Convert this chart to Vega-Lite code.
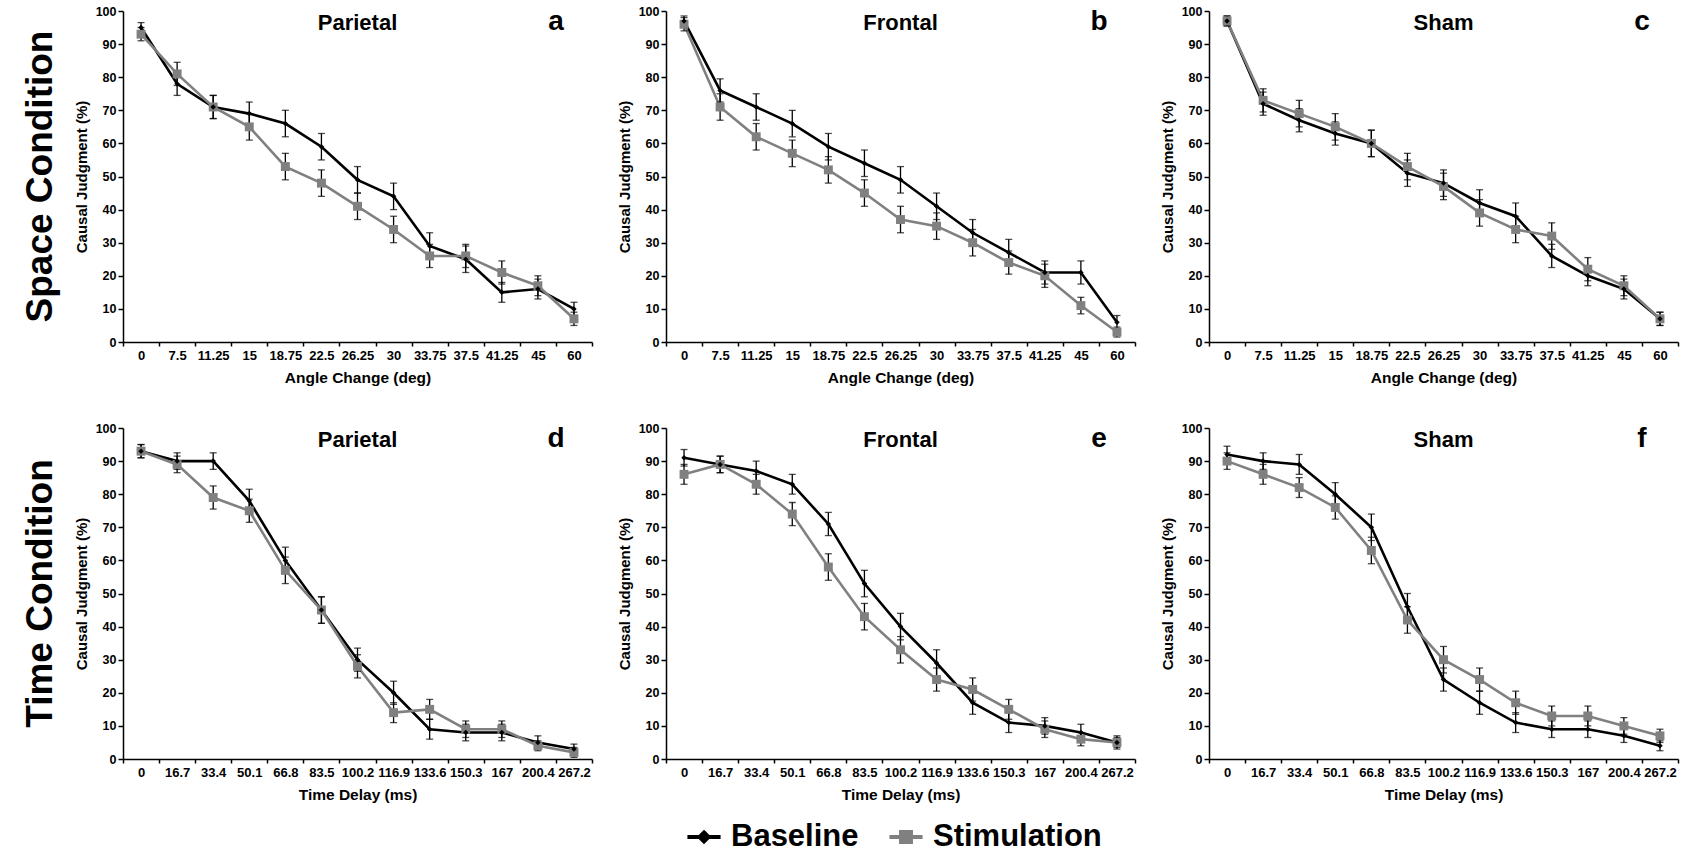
{
"$schema": "https://vega.github.io/schema/vega-lite/v6.json",
"padding": {"left": 22, "top": 5, "right": 5, "bottom": 5},
"background": "white",
"datasets": {"d": [
{"p":"a","g":"Baseline","x":"0","v":95,"e":1.5},{"p":"a","g":"Baseline","x":"7.5","v":78,"e":3.5},{"p":"a","g":"Baseline","x":"11.25","v":71,"e":3.5},{"p":"a","g":"Baseline","x":"15","v":69,"e":3.5},{"p":"a","g":"Baseline","x":"18.75","v":66,"e":4},{"p":"a","g":"Baseline","x":"22.5","v":59,"e":4},{"p":"a","g":"Baseline","x":"26.25","v":49,"e":4},{"p":"a","g":"Baseline","x":"30","v":44,"e":4},{"p":"a","g":"Baseline","x":"33.75","v":29,"e":4},{"p":"a","g":"Baseline","x":"37.5","v":25,"e":4},{"p":"a","g":"Baseline","x":"41.25","v":15,"e":3},{"p":"a","g":"Baseline","x":"45","v":16,"e":3},{"p":"a","g":"Baseline","x":"60","v":10,"e":2},
{"p":"a","g":"Stimulation","x":"0","v":93,"e":2},{"p":"a","g":"Stimulation","x":"7.5","v":81,"e":3.5},{"p":"a","g":"Stimulation","x":"11.25","v":71,"e":3.5},{"p":"a","g":"Stimulation","x":"15","v":65,"e":4},{"p":"a","g":"Stimulation","x":"18.75","v":53,"e":4},{"p":"a","g":"Stimulation","x":"22.5","v":48,"e":4},{"p":"a","g":"Stimulation","x":"26.25","v":41,"e":4},{"p":"a","g":"Stimulation","x":"30","v":34,"e":4},{"p":"a","g":"Stimulation","x":"33.75","v":26,"e":3.5},{"p":"a","g":"Stimulation","x":"37.5","v":26,"e":3.5},{"p":"a","g":"Stimulation","x":"41.25","v":21,"e":3.5},{"p":"a","g":"Stimulation","x":"45","v":17,"e":3},{"p":"a","g":"Stimulation","x":"60","v":7,"e":2},
{"p":"b","g":"Baseline","x":"0","v":97,"e":1.5},{"p":"b","g":"Baseline","x":"7.5","v":76,"e":3.5},{"p":"b","g":"Baseline","x":"11.25","v":71,"e":4},{"p":"b","g":"Baseline","x":"15","v":66,"e":4},{"p":"b","g":"Baseline","x":"18.75","v":59,"e":4},{"p":"b","g":"Baseline","x":"22.5","v":54,"e":4},{"p":"b","g":"Baseline","x":"26.25","v":49,"e":4},{"p":"b","g":"Baseline","x":"30","v":41,"e":4},{"p":"b","g":"Baseline","x":"33.75","v":33,"e":4},{"p":"b","g":"Baseline","x":"37.5","v":27,"e":4},{"p":"b","g":"Baseline","x":"41.25","v":21,"e":3.5},{"p":"b","g":"Baseline","x":"45","v":21,"e":3.5},{"p":"b","g":"Baseline","x":"60","v":6,"e":2},
{"p":"b","g":"Stimulation","x":"0","v":96,"e":2},{"p":"b","g":"Stimulation","x":"7.5","v":71,"e":4},{"p":"b","g":"Stimulation","x":"11.25","v":62,"e":4},{"p":"b","g":"Stimulation","x":"15","v":57,"e":4},{"p":"b","g":"Stimulation","x":"18.75","v":52,"e":4},{"p":"b","g":"Stimulation","x":"22.5","v":45,"e":4},{"p":"b","g":"Stimulation","x":"26.25","v":37,"e":4},{"p":"b","g":"Stimulation","x":"30","v":35,"e":4},{"p":"b","g":"Stimulation","x":"33.75","v":30,"e":4},{"p":"b","g":"Stimulation","x":"37.5","v":24,"e":3.5},{"p":"b","g":"Stimulation","x":"41.25","v":20,"e":3.5},{"p":"b","g":"Stimulation","x":"45","v":11,"e":2.5},{"p":"b","g":"Stimulation","x":"60","v":3,"e":1.5},
{"p":"c","g":"Baseline","x":"0","v":97,"e":1.5},{"p":"c","g":"Baseline","x":"7.5","v":72,"e":3.5},{"p":"c","g":"Baseline","x":"11.25","v":67,"e":3.5},{"p":"c","g":"Baseline","x":"15","v":63,"e":3.5},{"p":"c","g":"Baseline","x":"18.75","v":60,"e":4},{"p":"c","g":"Baseline","x":"22.5","v":51,"e":4},{"p":"c","g":"Baseline","x":"26.25","v":48,"e":4},{"p":"c","g":"Baseline","x":"30","v":42,"e":4},{"p":"c","g":"Baseline","x":"33.75","v":38,"e":4},{"p":"c","g":"Baseline","x":"37.5","v":26,"e":3.5},{"p":"c","g":"Baseline","x":"41.25","v":20,"e":3},{"p":"c","g":"Baseline","x":"45","v":16,"e":3},{"p":"c","g":"Baseline","x":"60","v":7,"e":2},
{"p":"c","g":"Stimulation","x":"0","v":97,"e":1.5},{"p":"c","g":"Stimulation","x":"7.5","v":73,"e":3.5},{"p":"c","g":"Stimulation","x":"11.25","v":69,"e":4},{"p":"c","g":"Stimulation","x":"15","v":65,"e":4},{"p":"c","g":"Stimulation","x":"18.75","v":60,"e":4},{"p":"c","g":"Stimulation","x":"22.5","v":53,"e":4},{"p":"c","g":"Stimulation","x":"26.25","v":47,"e":4},{"p":"c","g":"Stimulation","x":"30","v":39,"e":4},{"p":"c","g":"Stimulation","x":"33.75","v":34,"e":4},{"p":"c","g":"Stimulation","x":"37.5","v":32,"e":4},{"p":"c","g":"Stimulation","x":"41.25","v":22,"e":3.5},{"p":"c","g":"Stimulation","x":"45","v":17,"e":3},{"p":"c","g":"Stimulation","x":"60","v":7,"e":2},
{"p":"d","g":"Baseline","x":"0","v":93,"e":2},{"p":"d","g":"Baseline","x":"16.7","v":90,"e":2.5},{"p":"d","g":"Baseline","x":"33.4","v":90,"e":2.5},{"p":"d","g":"Baseline","x":"50.1","v":78,"e":3.5},{"p":"d","g":"Baseline","x":"66.8","v":60,"e":4},{"p":"d","g":"Baseline","x":"83.5","v":45,"e":4},{"p":"d","g":"Baseline","x":"100.2","v":30,"e":3.5},{"p":"d","g":"Baseline","x":"116.9","v":20,"e":3.5},{"p":"d","g":"Baseline","x":"133.6","v":9,"e":3},{"p":"d","g":"Baseline","x":"150.3","v":8,"e":2.5},{"p":"d","g":"Baseline","x":"167","v":8,"e":2.5},{"p":"d","g":"Baseline","x":"200.4","v":5,"e":2},{"p":"d","g":"Baseline","x":"267.2","v":3,"e":1.5},
{"p":"d","g":"Stimulation","x":"0","v":93,"e":2},{"p":"d","g":"Stimulation","x":"16.7","v":89,"e":2.5},{"p":"d","g":"Stimulation","x":"33.4","v":79,"e":3.5},{"p":"d","g":"Stimulation","x":"50.1","v":75,"e":3.5},{"p":"d","g":"Stimulation","x":"66.8","v":57,"e":4},{"p":"d","g":"Stimulation","x":"83.5","v":45,"e":4},{"p":"d","g":"Stimulation","x":"100.2","v":28,"e":3.5},{"p":"d","g":"Stimulation","x":"116.9","v":14,"e":3},{"p":"d","g":"Stimulation","x":"133.6","v":15,"e":3},{"p":"d","g":"Stimulation","x":"150.3","v":9,"e":2.5},{"p":"d","g":"Stimulation","x":"167","v":9,"e":2.5},{"p":"d","g":"Stimulation","x":"200.4","v":4,"e":1.5},{"p":"d","g":"Stimulation","x":"267.2","v":2,"e":1.5},
{"p":"e","g":"Baseline","x":"0","v":91,"e":2.5},{"p":"e","g":"Baseline","x":"16.7","v":89,"e":2.5},{"p":"e","g":"Baseline","x":"33.4","v":87,"e":3},{"p":"e","g":"Baseline","x":"50.1","v":83,"e":3},{"p":"e","g":"Baseline","x":"66.8","v":71,"e":3.5},{"p":"e","g":"Baseline","x":"83.5","v":53,"e":4},{"p":"e","g":"Baseline","x":"100.2","v":40,"e":4},{"p":"e","g":"Baseline","x":"116.9","v":29,"e":4},{"p":"e","g":"Baseline","x":"133.6","v":17,"e":3.5},{"p":"e","g":"Baseline","x":"150.3","v":11,"e":3},{"p":"e","g":"Baseline","x":"167","v":10,"e":2.5},{"p":"e","g":"Baseline","x":"200.4","v":8,"e":2.5},{"p":"e","g":"Baseline","x":"267.2","v":5,"e":2},
{"p":"e","g":"Stimulation","x":"0","v":86,"e":3},{"p":"e","g":"Stimulation","x":"16.7","v":89,"e":2.5},{"p":"e","g":"Stimulation","x":"33.4","v":83,"e":3},{"p":"e","g":"Stimulation","x":"50.1","v":74,"e":3.5},{"p":"e","g":"Stimulation","x":"66.8","v":58,"e":4},{"p":"e","g":"Stimulation","x":"83.5","v":43,"e":4},{"p":"e","g":"Stimulation","x":"100.2","v":33,"e":4},{"p":"e","g":"Stimulation","x":"116.9","v":24,"e":3.5},{"p":"e","g":"Stimulation","x":"133.6","v":21,"e":3.5},{"p":"e","g":"Stimulation","x":"150.3","v":15,"e":3},{"p":"e","g":"Stimulation","x":"167","v":9,"e":2.5},{"p":"e","g":"Stimulation","x":"200.4","v":6,"e":2},{"p":"e","g":"Stimulation","x":"267.2","v":5,"e":1.5},
{"p":"f","g":"Baseline","x":"0","v":92,"e":2.5},{"p":"f","g":"Baseline","x":"16.7","v":90,"e":2.5},{"p":"f","g":"Baseline","x":"33.4","v":89,"e":3},{"p":"f","g":"Baseline","x":"50.1","v":80,"e":3.5},{"p":"f","g":"Baseline","x":"66.8","v":70,"e":4},{"p":"f","g":"Baseline","x":"83.5","v":46,"e":4},{"p":"f","g":"Baseline","x":"100.2","v":24,"e":3.5},{"p":"f","g":"Baseline","x":"116.9","v":17,"e":3.5},{"p":"f","g":"Baseline","x":"133.6","v":11,"e":3},{"p":"f","g":"Baseline","x":"150.3","v":9,"e":2.5},{"p":"f","g":"Baseline","x":"167","v":9,"e":2.5},{"p":"f","g":"Baseline","x":"200.4","v":7,"e":2},{"p":"f","g":"Baseline","x":"267.2","v":4,"e":1.5},
{"p":"f","g":"Stimulation","x":"0","v":90,"e":2.5},{"p":"f","g":"Stimulation","x":"16.7","v":86,"e":3},{"p":"f","g":"Stimulation","x":"33.4","v":82,"e":3},{"p":"f","g":"Stimulation","x":"50.1","v":76,"e":3.5},{"p":"f","g":"Stimulation","x":"66.8","v":63,"e":4},{"p":"f","g":"Stimulation","x":"83.5","v":42,"e":4},{"p":"f","g":"Stimulation","x":"100.2","v":30,"e":4},{"p":"f","g":"Stimulation","x":"116.9","v":24,"e":3.5},{"p":"f","g":"Stimulation","x":"133.6","v":17,"e":3.5},{"p":"f","g":"Stimulation","x":"150.3","v":13,"e":3},{"p":"f","g":"Stimulation","x":"167","v":13,"e":3},{"p":"f","g":"Stimulation","x":"200.4","v":10,"e":2.5},{"p":"f","g":"Stimulation","x":"267.2","v":7,"e":2}
]},
"spacing": 36,
"vconcat": [
{"spacing": 24, "hconcat": [
{"width": 469, "height": 331,
 "title": {"text": "Space Condition", "orient": "left", "anchor": "middle", "frame": "group", "fontSize": 37, "font": "Liberation Sans", "fontWeight": "bold", "color": "#000", "offset": 14},
 "layer": [
 {"data": {"name": "d"},
  "encoding": {
   "x": {"field": "x", "type": "ordinal", "scale": {"type": "band", "domain": ["0","7.5","11.25","15","18.75","22.5","26.25","30","33.75","37.5","41.25","45","60"], "paddingInner": 0, "paddingOuter": 0}, "axis": {"title": "Angle Change (deg)"}},
   "y": {"field": "v", "type": "quantitative", "scale": {"domain": [0, 100]}, "axis": {"title": "Causal Judgment (%)", "values": [0,10,20,30,40,50,60,70,80,90,100]}}},
  "layer": [
   {"transform": [{"filter": "datum.p == 'a'"}], "mark": {"type": "line", "strokeWidth": 2.6}, "encoding": {"color": {"field": "g", "type": "nominal", "scale": {"domain": ["Baseline","Stimulation"], "range": ["#000000","#808080"]}, "legend": {"title": null, "orient": "none", "legendX": 562, "legendY": 807, "direction": "horizontal", "labelFontSize": 31, "labelFontWeight": "bold", "labelFont": "Liberation Sans", "labelColor": "#000", "labelLimit": 0, "symbolSize": 1100, "symbolStrokeWidth": 4, "labelOffset": 8, "columnPadding": 22, "encode": {"symbols": {"update": {"shape": {"signal": "datum.value === 'Baseline' ? 'M-1,0H1M0,-0.27L0.27,0L0,0.27L-0.27,0Z' : 'M-1,0H1M-0.3,-0.3H0.3V0.3H-0.3Z'"}, "fill": {"signal": "datum.value === 'Baseline' ? '#000000' : '#808080'"}, "stroke": {"signal": "datum.value === 'Baseline' ? '#000000' : '#808080'"}}}}}}}},
   {"transform": [{"filter": "datum.p == 'a'"}], "mark": {"type": "errorbar", "color": "#000", "thickness": 1.3, "ticks": {"size": 7, "thickness": 1.3, "color": "#000"}}, "encoding": {"yError": {"field": "e"}}},
   {"transform": [{"filter": "datum.p == 'a' && datum.g == 'Stimulation'"}], "mark": {"type": "square", "size": 80, "color": "#808080", "opacity": 1}},
   {"transform": [{"filter": "datum.p == 'a' && datum.g == 'Baseline'"}], "mark": {"type": "point", "shape": "diamond", "filled": true, "size": 30, "color": "#000", "opacity": 1}}
  ]},
 {"data": {"values": [{}]}, "mark": {"type": "text", "fontSize": 22, "fontWeight": "bold", "font": "Liberation Sans", "color": "#000", "baseline": "alphabetic"}, "encoding": {"x": {"datum": "26.25", "type": "ordinal"}, "y": {"datum": 94.3, "type": "quantitative", "axis": {"title": "Causal Judgment (%)", "values": [0,10,20,30,40,50,60,70,80,90,100]}}, "text": {"value": "Parietal"}}},
 {"data": {"values": [{}]}, "mark": {"type": "text", "fontSize": 28, "fontWeight": "bold", "font": "Liberation Sans", "color": "#000", "baseline": "alphabetic", "dx": -18}, "encoding": {"x": {"datum": "60", "type": "ordinal"}, "y": {"datum": 94.3, "type": "quantitative", "axis": {"title": "Causal Judgment (%)", "values": [0,10,20,30,40,50,60,70,80,90,100]}}, "text": {"value": "a"}}}
 ]},
{"width": 469, "height": 331,
 "layer": [
 {"data": {"name": "d"},
  "encoding": {
   "x": {"field": "x", "type": "ordinal", "scale": {"type": "band", "domain": ["0","7.5","11.25","15","18.75","22.5","26.25","30","33.75","37.5","41.25","45","60"], "paddingInner": 0, "paddingOuter": 0}, "axis": {"title": "Angle Change (deg)"}},
   "y": {"field": "v", "type": "quantitative", "scale": {"domain": [0, 100]}, "axis": {"title": "Causal Judgment (%)", "values": [0,10,20,30,40,50,60,70,80,90,100]}}},
  "layer": [
   {"transform": [{"filter": "datum.p == 'b'"}], "mark": {"type": "line", "strokeWidth": 2.6}, "encoding": {"color": {"field": "g", "type": "nominal", "scale": {"domain": ["Baseline","Stimulation"], "range": ["#000000","#808080"]}, "legend": {"title": null, "orient": "none", "legendX": 562, "legendY": 807, "direction": "horizontal", "labelFontSize": 31, "labelFontWeight": "bold", "labelFont": "Liberation Sans", "labelColor": "#000", "labelLimit": 0, "symbolSize": 1100, "symbolStrokeWidth": 4, "labelOffset": 8, "columnPadding": 22, "encode": {"symbols": {"update": {"shape": {"signal": "datum.value === 'Baseline' ? 'M-1,0H1M0,-0.27L0.27,0L0,0.27L-0.27,0Z' : 'M-1,0H1M-0.3,-0.3H0.3V0.3H-0.3Z'"}, "fill": {"signal": "datum.value === 'Baseline' ? '#000000' : '#808080'"}, "stroke": {"signal": "datum.value === 'Baseline' ? '#000000' : '#808080'"}}}}}}}},
   {"transform": [{"filter": "datum.p == 'b'"}], "mark": {"type": "errorbar", "color": "#000", "thickness": 1.3, "ticks": {"size": 7, "thickness": 1.3, "color": "#000"}}, "encoding": {"yError": {"field": "e"}}},
   {"transform": [{"filter": "datum.p == 'b' && datum.g == 'Stimulation'"}], "mark": {"type": "square", "size": 80, "color": "#808080", "opacity": 1}},
   {"transform": [{"filter": "datum.p == 'b' && datum.g == 'Baseline'"}], "mark": {"type": "point", "shape": "diamond", "filled": true, "size": 30, "color": "#000", "opacity": 1}}
  ]},
 {"data": {"values": [{}]}, "mark": {"type": "text", "fontSize": 22, "fontWeight": "bold", "font": "Liberation Sans", "color": "#000", "baseline": "alphabetic"}, "encoding": {"x": {"datum": "26.25", "type": "ordinal"}, "y": {"datum": 94.3, "type": "quantitative", "axis": {"title": "Causal Judgment (%)", "values": [0,10,20,30,40,50,60,70,80,90,100]}}, "text": {"value": "Frontal"}}},
 {"data": {"values": [{}]}, "mark": {"type": "text", "fontSize": 28, "fontWeight": "bold", "font": "Liberation Sans", "color": "#000", "baseline": "alphabetic", "dx": -18}, "encoding": {"x": {"datum": "60", "type": "ordinal"}, "y": {"datum": 94.3, "type": "quantitative", "axis": {"title": "Causal Judgment (%)", "values": [0,10,20,30,40,50,60,70,80,90,100]}}, "text": {"value": "b"}}}
 ]},
{"width": 469, "height": 331,
 "layer": [
 {"data": {"name": "d"},
  "encoding": {
   "x": {"field": "x", "type": "ordinal", "scale": {"type": "band", "domain": ["0","7.5","11.25","15","18.75","22.5","26.25","30","33.75","37.5","41.25","45","60"], "paddingInner": 0, "paddingOuter": 0}, "axis": {"title": "Angle Change (deg)"}},
   "y": {"field": "v", "type": "quantitative", "scale": {"domain": [0, 100]}, "axis": {"title": "Causal Judgment (%)", "values": [0,10,20,30,40,50,60,70,80,90,100]}}},
  "layer": [
   {"transform": [{"filter": "datum.p == 'c'"}], "mark": {"type": "line", "strokeWidth": 2.6}, "encoding": {"color": {"field": "g", "type": "nominal", "scale": {"domain": ["Baseline","Stimulation"], "range": ["#000000","#808080"]}, "legend": {"title": null, "orient": "none", "legendX": 562, "legendY": 807, "direction": "horizontal", "labelFontSize": 31, "labelFontWeight": "bold", "labelFont": "Liberation Sans", "labelColor": "#000", "labelLimit": 0, "symbolSize": 1100, "symbolStrokeWidth": 4, "labelOffset": 8, "columnPadding": 22, "encode": {"symbols": {"update": {"shape": {"signal": "datum.value === 'Baseline' ? 'M-1,0H1M0,-0.27L0.27,0L0,0.27L-0.27,0Z' : 'M-1,0H1M-0.3,-0.3H0.3V0.3H-0.3Z'"}, "fill": {"signal": "datum.value === 'Baseline' ? '#000000' : '#808080'"}, "stroke": {"signal": "datum.value === 'Baseline' ? '#000000' : '#808080'"}}}}}}}},
   {"transform": [{"filter": "datum.p == 'c'"}], "mark": {"type": "errorbar", "color": "#000", "thickness": 1.3, "ticks": {"size": 7, "thickness": 1.3, "color": "#000"}}, "encoding": {"yError": {"field": "e"}}},
   {"transform": [{"filter": "datum.p == 'c' && datum.g == 'Stimulation'"}], "mark": {"type": "square", "size": 80, "color": "#808080", "opacity": 1}},
   {"transform": [{"filter": "datum.p == 'c' && datum.g == 'Baseline'"}], "mark": {"type": "point", "shape": "diamond", "filled": true, "size": 30, "color": "#000", "opacity": 1}}
  ]},
 {"data": {"values": [{}]}, "mark": {"type": "text", "fontSize": 22, "fontWeight": "bold", "font": "Liberation Sans", "color": "#000", "baseline": "alphabetic"}, "encoding": {"x": {"datum": "26.25", "type": "ordinal"}, "y": {"datum": 94.3, "type": "quantitative", "axis": {"title": "Causal Judgment (%)", "values": [0,10,20,30,40,50,60,70,80,90,100]}}, "text": {"value": "Sham"}}},
 {"data": {"values": [{}]}, "mark": {"type": "text", "fontSize": 28, "fontWeight": "bold", "font": "Liberation Sans", "color": "#000", "baseline": "alphabetic", "dx": -18}, "encoding": {"x": {"datum": "60", "type": "ordinal"}, "y": {"datum": 94.3, "type": "quantitative", "axis": {"title": "Causal Judgment (%)", "values": [0,10,20,30,40,50,60,70,80,90,100]}}, "text": {"value": "c"}}}
 ]}
]},
{"spacing": 24, "hconcat": [
{"width": 469, "height": 331,
 "title": {"text": "Time Condition", "orient": "left", "anchor": "middle", "frame": "group", "fontSize": 37, "font": "Liberation Sans", "fontWeight": "bold", "color": "#000", "offset": 14},
 "layer": [
 {"data": {"name": "d"},
  "encoding": {
   "x": {"field": "x", "type": "ordinal", "scale": {"type": "band", "domain": ["0","16.7","33.4","50.1","66.8","83.5","100.2","116.9","133.6","150.3","167","200.4","267.2"], "paddingInner": 0, "paddingOuter": 0}, "axis": {"title": "Time Delay (ms)"}},
   "y": {"field": "v", "type": "quantitative", "scale": {"domain": [0, 100]}, "axis": {"title": "Causal Judgment (%)", "values": [0,10,20,30,40,50,60,70,80,90,100]}}},
  "layer": [
   {"transform": [{"filter": "datum.p == 'd'"}], "mark": {"type": "line", "strokeWidth": 2.6}, "encoding": {"color": {"field": "g", "type": "nominal", "scale": {"domain": ["Baseline","Stimulation"], "range": ["#000000","#808080"]}, "legend": {"title": null, "orient": "none", "legendX": 562, "legendY": 807, "direction": "horizontal", "labelFontSize": 31, "labelFontWeight": "bold", "labelFont": "Liberation Sans", "labelColor": "#000", "labelLimit": 0, "symbolSize": 1100, "symbolStrokeWidth": 4, "labelOffset": 8, "columnPadding": 22, "encode": {"symbols": {"update": {"shape": {"signal": "datum.value === 'Baseline' ? 'M-1,0H1M0,-0.27L0.27,0L0,0.27L-0.27,0Z' : 'M-1,0H1M-0.3,-0.3H0.3V0.3H-0.3Z'"}, "fill": {"signal": "datum.value === 'Baseline' ? '#000000' : '#808080'"}, "stroke": {"signal": "datum.value === 'Baseline' ? '#000000' : '#808080'"}}}}}}}},
   {"transform": [{"filter": "datum.p == 'd'"}], "mark": {"type": "errorbar", "color": "#000", "thickness": 1.3, "ticks": {"size": 7, "thickness": 1.3, "color": "#000"}}, "encoding": {"yError": {"field": "e"}}},
   {"transform": [{"filter": "datum.p == 'd' && datum.g == 'Stimulation'"}], "mark": {"type": "square", "size": 80, "color": "#808080", "opacity": 1}},
   {"transform": [{"filter": "datum.p == 'd' && datum.g == 'Baseline'"}], "mark": {"type": "point", "shape": "diamond", "filled": true, "size": 30, "color": "#000", "opacity": 1}}
  ]},
 {"data": {"values": [{}]}, "mark": {"type": "text", "fontSize": 22, "fontWeight": "bold", "font": "Liberation Sans", "color": "#000", "baseline": "alphabetic"}, "encoding": {"x": {"datum": "100.2", "type": "ordinal"}, "y": {"datum": 94.3, "type": "quantitative", "axis": {"title": "Causal Judgment (%)", "values": [0,10,20,30,40,50,60,70,80,90,100]}}, "text": {"value": "Parietal"}}},
 {"data": {"values": [{}]}, "mark": {"type": "text", "fontSize": 28, "fontWeight": "bold", "font": "Liberation Sans", "color": "#000", "baseline": "alphabetic", "dx": -18}, "encoding": {"x": {"datum": "267.2", "type": "ordinal"}, "y": {"datum": 94.3, "type": "quantitative", "axis": {"title": "Causal Judgment (%)", "values": [0,10,20,30,40,50,60,70,80,90,100]}}, "text": {"value": "d"}}}
 ]},
{"width": 469, "height": 331,
 "layer": [
 {"data": {"name": "d"},
  "encoding": {
   "x": {"field": "x", "type": "ordinal", "scale": {"type": "band", "domain": ["0","16.7","33.4","50.1","66.8","83.5","100.2","116.9","133.6","150.3","167","200.4","267.2"], "paddingInner": 0, "paddingOuter": 0}, "axis": {"title": "Time Delay (ms)"}},
   "y": {"field": "v", "type": "quantitative", "scale": {"domain": [0, 100]}, "axis": {"title": "Causal Judgment (%)", "values": [0,10,20,30,40,50,60,70,80,90,100]}}},
  "layer": [
   {"transform": [{"filter": "datum.p == 'e'"}], "mark": {"type": "line", "strokeWidth": 2.6}, "encoding": {"color": {"field": "g", "type": "nominal", "scale": {"domain": ["Baseline","Stimulation"], "range": ["#000000","#808080"]}, "legend": {"title": null, "orient": "none", "legendX": 562, "legendY": 807, "direction": "horizontal", "labelFontSize": 31, "labelFontWeight": "bold", "labelFont": "Liberation Sans", "labelColor": "#000", "labelLimit": 0, "symbolSize": 1100, "symbolStrokeWidth": 4, "labelOffset": 8, "columnPadding": 22, "encode": {"symbols": {"update": {"shape": {"signal": "datum.value === 'Baseline' ? 'M-1,0H1M0,-0.27L0.27,0L0,0.27L-0.27,0Z' : 'M-1,0H1M-0.3,-0.3H0.3V0.3H-0.3Z'"}, "fill": {"signal": "datum.value === 'Baseline' ? '#000000' : '#808080'"}, "stroke": {"signal": "datum.value === 'Baseline' ? '#000000' : '#808080'"}}}}}}}},
   {"transform": [{"filter": "datum.p == 'e'"}], "mark": {"type": "errorbar", "color": "#000", "thickness": 1.3, "ticks": {"size": 7, "thickness": 1.3, "color": "#000"}}, "encoding": {"yError": {"field": "e"}}},
   {"transform": [{"filter": "datum.p == 'e' && datum.g == 'Stimulation'"}], "mark": {"type": "square", "size": 80, "color": "#808080", "opacity": 1}},
   {"transform": [{"filter": "datum.p == 'e' && datum.g == 'Baseline'"}], "mark": {"type": "point", "shape": "diamond", "filled": true, "size": 30, "color": "#000", "opacity": 1}}
  ]},
 {"data": {"values": [{}]}, "mark": {"type": "text", "fontSize": 22, "fontWeight": "bold", "font": "Liberation Sans", "color": "#000", "baseline": "alphabetic"}, "encoding": {"x": {"datum": "100.2", "type": "ordinal"}, "y": {"datum": 94.3, "type": "quantitative", "axis": {"title": "Causal Judgment (%)", "values": [0,10,20,30,40,50,60,70,80,90,100]}}, "text": {"value": "Frontal"}}},
 {"data": {"values": [{}]}, "mark": {"type": "text", "fontSize": 28, "fontWeight": "bold", "font": "Liberation Sans", "color": "#000", "baseline": "alphabetic", "dx": -18}, "encoding": {"x": {"datum": "267.2", "type": "ordinal"}, "y": {"datum": 94.3, "type": "quantitative", "axis": {"title": "Causal Judgment (%)", "values": [0,10,20,30,40,50,60,70,80,90,100]}}, "text": {"value": "e"}}}
 ]},
{"width": 469, "height": 331,
 "layer": [
 {"data": {"name": "d"},
  "encoding": {
   "x": {"field": "x", "type": "ordinal", "scale": {"type": "band", "domain": ["0","16.7","33.4","50.1","66.8","83.5","100.2","116.9","133.6","150.3","167","200.4","267.2"], "paddingInner": 0, "paddingOuter": 0}, "axis": {"title": "Time Delay (ms)"}},
   "y": {"field": "v", "type": "quantitative", "scale": {"domain": [0, 100]}, "axis": {"title": "Causal Judgment (%)", "values": [0,10,20,30,40,50,60,70,80,90,100]}}},
  "layer": [
   {"transform": [{"filter": "datum.p == 'f'"}], "mark": {"type": "line", "strokeWidth": 2.6}, "encoding": {"color": {"field": "g", "type": "nominal", "scale": {"domain": ["Baseline","Stimulation"], "range": ["#000000","#808080"]}, "legend": {"title": null, "orient": "none", "legendX": 562, "legendY": 807, "direction": "horizontal", "labelFontSize": 31, "labelFontWeight": "bold", "labelFont": "Liberation Sans", "labelColor": "#000", "labelLimit": 0, "symbolSize": 1100, "symbolStrokeWidth": 4, "labelOffset": 8, "columnPadding": 22, "encode": {"symbols": {"update": {"shape": {"signal": "datum.value === 'Baseline' ? 'M-1,0H1M0,-0.27L0.27,0L0,0.27L-0.27,0Z' : 'M-1,0H1M-0.3,-0.3H0.3V0.3H-0.3Z'"}, "fill": {"signal": "datum.value === 'Baseline' ? '#000000' : '#808080'"}, "stroke": {"signal": "datum.value === 'Baseline' ? '#000000' : '#808080'"}}}}}}}},
   {"transform": [{"filter": "datum.p == 'f'"}], "mark": {"type": "errorbar", "color": "#000", "thickness": 1.3, "ticks": {"size": 7, "thickness": 1.3, "color": "#000"}}, "encoding": {"yError": {"field": "e"}}},
   {"transform": [{"filter": "datum.p == 'f' && datum.g == 'Stimulation'"}], "mark": {"type": "square", "size": 80, "color": "#808080", "opacity": 1}},
   {"transform": [{"filter": "datum.p == 'f' && datum.g == 'Baseline'"}], "mark": {"type": "point", "shape": "diamond", "filled": true, "size": 30, "color": "#000", "opacity": 1}}
  ]},
 {"data": {"values": [{}]}, "mark": {"type": "text", "fontSize": 22, "fontWeight": "bold", "font": "Liberation Sans", "color": "#000", "baseline": "alphabetic"}, "encoding": {"x": {"datum": "100.2", "type": "ordinal"}, "y": {"datum": 94.3, "type": "quantitative", "axis": {"title": "Causal Judgment (%)", "values": [0,10,20,30,40,50,60,70,80,90,100]}}, "text": {"value": "Sham"}}},
 {"data": {"values": [{}]}, "mark": {"type": "text", "fontSize": 28, "fontWeight": "bold", "font": "Liberation Sans", "color": "#000", "baseline": "alphabetic", "dx": -18}, "encoding": {"x": {"datum": "267.2", "type": "ordinal"}, "y": {"datum": 94.3, "type": "quantitative", "axis": {"title": "Causal Judgment (%)", "values": [0,10,20,30,40,50,60,70,80,90,100]}}, "text": {"value": "f"}}}
 ]}
]}
],
"config": {
 "view": {"stroke": null},
 "font": "Liberation Sans",
 "axis": {"labelFont": "Liberation Sans", "labelFontWeight": "bold", "labelColor": "#000", "titleFont": "Liberation Sans", "titleFontWeight": "bold", "titleColor": "#000", "domainColor": "#000", "tickColor": "#000", "domainWidth": 1.5, "tickWidth": 1.5, "grid": false},
 "axisX": {"labelAngle": 0, "labelFontSize": 13, "tickSize": 4, "labelPadding": 3, "titleFontSize": 15.5, "titlePadding": 8, "tickBand": "extent"},
 "axisY": {"labelFontSize": 12.5, "tickSize": 5, "labelPadding": 2, "titleFontSize": 15, "titlePadding": 6, "tickCount": 11}
}
}
